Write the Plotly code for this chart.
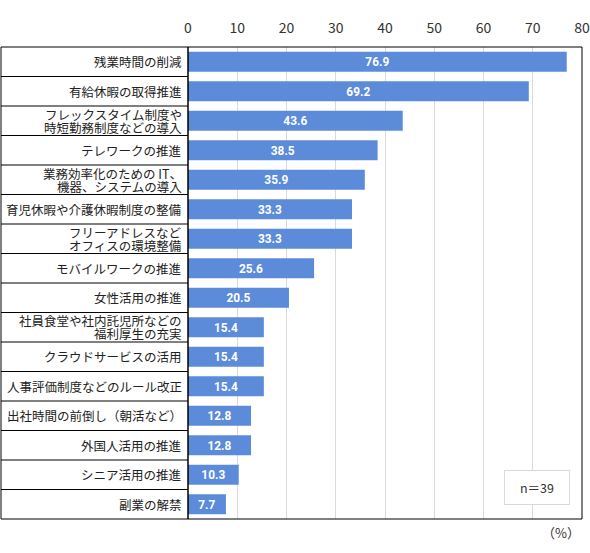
import plotly.graph_objects as go

# 働き方改革の取り組み（複数回答）
categories = [
    "残業時間の削減",
    "有給休暇の取得推進",
    "フレックスタイム制度や\n時短勤務制度などの導入",
    "テレワークの推進",
    "業務効率化のための IT、\n機器、システムの導入",
    "育児休暇や介護休暇制度の整備",
    "フリーアドレスなど\nオフィスの環境整備",
    "モバイルワークの推進",
    "女性活用の推進",
    "社員食堂や社内託児所などの\n福利厚生の充実",
    "クラウドサービスの活用",
    "人事評価制度などのルール改正",
    "出社時間の前倒し（朝活など）",
    "外国人活用の推進",
    "シニア活用の推進",
    "副業の解禁",
]
values = [76.9, 69.2, 43.6, 38.5, 35.9, 33.3, 33.3, 25.6, 20.5, 15.4, 15.4, 15.4, 12.8, 12.8, 10.3, 7.7]
x_ticks = [0, 10, 20, 30, 40, 50, 60, 70, 80]

W, H = 590, 553
L, R, T, B = 188, 8, 47, 34
plot_w = W - L - R
box_left = -(L - 1) / plot_w  # left table edge in paper coords

fig = go.Figure()
fig.add_trace(go.Bar(
    x=values,
    y=list(range(len(categories))),
    orientation="h",
    width=0.68,
    marker=dict(color="#5b8bd9", line=dict(width=0)),
    text=[f"{v:.1f}" for v in values],
    textposition="inside",
    insidetextanchor="middle",
    textfont=dict(family="Roboto", size=13.5, color="white", weight="bold"),
    cliponaxis=False,
    hoverinfo="skip",
))

shapes = []
# outer frame of plot area
shapes.append(dict(type="rect", xref="paper", yref="paper", x0=0, x1=1, y0=0, y1=1,
                   line=dict(color="black", width=1)))
# label table frame
shapes.append(dict(type="rect", xref="paper", yref="paper", x0=box_left, x1=0, y0=0, y1=1,
                   line=dict(color="black", width=1)))
# row separators in the label table
for i in range(len(categories) - 1):
    shapes.append(dict(type="line", xref="paper", yref="y", x0=box_left, x1=0,
                       y0=i + 0.5, y1=i + 0.5, line=dict(color="black", width=1)))

# category labels, one annotation per line so the line spacing stays tight
annotations = []
for i, cat in enumerate(categories):
    lines = cat.split("\n")
    n = len(lines)
    for k, line in enumerate(lines):
        annotations.append(dict(
            text=line, xref="paper", yref="y", x=0, y=i,
            xanchor="right", yanchor="middle", xshift=-4,
            yshift=(n - 1) * 6.5 - k * 13,
            showarrow=False,
            font=dict(size=12.5, color="#222222"),
        ))

annotations += [
    dict(text="n＝39", xref="paper", yref="paper", x=0.97, y=0.03,
         xanchor="right", yanchor="bottom", showarrow=False,
         font=dict(size=12.5, color="#333333"), bordercolor="#d9d9d9",
         borderwidth=1, borderpad=7, width=50, bgcolor="white"),
    dict(text="（%）", xref="paper", yref="paper", x=1.0, y=-0.004,
         xanchor="right", yanchor="top", showarrow=False,
         font=dict(size=13, color="#333333")),
]

fig.update_layout(
    width=W, height=H,
    margin=dict(l=L, r=R, t=T, b=B, autoexpand=False),
    paper_bgcolor="white",
    plot_bgcolor="white",
    showlegend=False,
    font=dict(family="Noto Sans CJK JP", color="#333333"),
    shapes=shapes,
    annotations=annotations,
)
fig.update_xaxes(
    side="top", range=[0, 80], tickvals=x_ticks,
    showgrid=True, gridcolor="#d9d9d9", gridwidth=1,
    zeroline=False, showline=False, ticks="",
    ticklabelstandoff=10, ticklabeloverflow="allow",
    tickfont=dict(size=14, color="#333333"),
    automargin=False, fixedrange=True,
)
fig.update_yaxes(
    range=[len(categories) - 0.5, -0.5], showgrid=False, showline=False,
    ticks="", showticklabels=False,
    automargin=False, fixedrange=True,
)

fig.write_html("out.html", config={"displayModeBar": False},
               post_script="document.body.style.margin='0';")
